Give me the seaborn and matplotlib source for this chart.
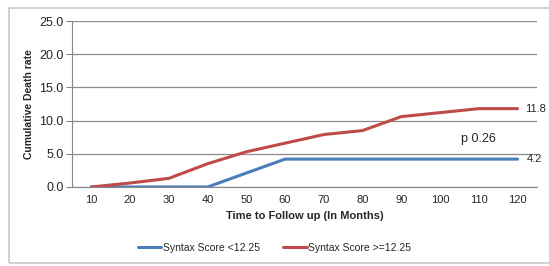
import pandas as pd
import numpy as np
import seaborn as sns
import matplotlib.pyplot as plt
from matplotlib.lines import Line2D
from matplotlib.patches import Rectangle

months = ['10', '20', '30', '40', '50', '60', '70', '80', '90', '100', '110', '120']
low_score = [0, 0, 0, 0, 2.1, 4.2, 4.2, 4.2, 4.2, 4.2, 4.2, 4.2]
high_score = [0, 0.6, 1.3, 3.5, 5.3, 6.6, 7.9, 8.5, 10.6, 11.2, 11.8, 11.8]
labels = ['Syntax Score <12.25', 'Syntax Score >=12.25']
colors = ['#4A7EBB', '#BE4B48']

sns.set_style('white')
plt.rcParams['font.family'] = ['Liberation Sans', 'DejaVu Sans']

df = pd.DataFrame({'pos': list(range(len(months))) * 2,
                   'rate': low_score + high_score,
                   'group': [labels[0]] * len(months) + [labels[1]] * len(months)})

fig = plt.figure(figsize=(5.49, 2.66), dpi=100)
ax = fig.add_axes([0.131, 0.297, 0.847, 0.624])
sns.lineplot(data=df, x='pos', y='rate', hue='group', palette=colors,
             linewidth=2.2, legend=False, ax=ax)

ax.set_xlim(-0.5, len(months) - 0.5)
ax.set_ylim(0, 25)
ax.set_yticks(np.arange(0, 26, 5))
ax.set_yticklabels([f'{v:.1f}' for v in np.arange(0, 26, 5)], fontsize=9)
ax.set_xticks(range(len(months)))
ax.set_xticklabels(months, fontsize=8)
ax.set_xticks(np.arange(-0.5, len(months)), minor=True)
ax.tick_params(axis='x', which='major', length=0, pad=6)
ax.tick_params(axis='x', which='minor', length=4, color='#888888', direction='out')
ax.tick_params(axis='y', length=4, color='#888888', direction='out', left=True, pad=2)
ax.yaxis.grid(True, color='#8c8c8c', linewidth=0.9)
for s in ['top', 'right']:
    ax.spines[s].set_visible(False)
for s in ['left', 'bottom']:
    ax.spines[s].set_color('#888888')
ax.set_xlabel('Time to Follow up (In Months)', fontsize=8, fontweight='bold')
ax.set_ylabel('Cumulative Death rate', fontsize=7.5, fontweight='bold')

ax.text(len(months) - 1 + 0.2, high_score[-1], f'{high_score[-1]}', fontsize=8, va='center')
ax.text(len(months) - 1 + 0.25, low_score[-1], f'{low_score[-1]}', fontsize=8, va='center')
ax.text(10.0, 7.2, 'p 0.26', fontsize=9, ha='center', va='center')

handles = [Line2D([], [], color=c, linewidth=2.2) for c in colors]
fig.legend(handles, labels, loc='center', bbox_to_anchor=(0.5, 0.068), ncol=2,
           frameon=False, fontsize=7.5, handlelength=2.3, handletextpad=0.1,
           columnspacing=2.3)

fig.patches.append(Rectangle((0.016, 0.012), 1.1, 0.957, transform=fig.transFigure,
                             fill=False, edgecolor='#c8c8c8', linewidth=1.2))

plt.savefig('out.png', dpi=100)
